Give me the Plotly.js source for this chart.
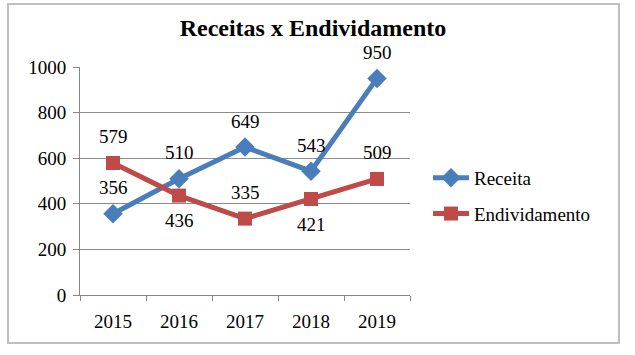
<!DOCTYPE html>
<html>
<head>
<meta charset="utf-8">
<script src="https://cdn.plot.ly/plotly-3.0.1.min.js"></script>
<style>html,body{margin:0;padding:0;background:#fff;}#chart{width:635px;height:355px;}</style>
</head>
<body>
<div id="chart"></div>
<script>
const years = ["2015", "2016", "2017", "2018", "2019"];
const receita = [356, 510, 649, 543, 950];
const endividamento = [579, 436, 335, 421, 509];
const receitaLabelPos = ["above", "above", "above", "above", "above"];
const endivLabelPos = ["above", "below", "above", "below", "above"];

const W = 635, H = 355;
const M = {l: 80, r: 225, t: 67, b: 60};
const pw = W - M.l - M.r, ph = H - M.t - M.b;
const px = v => (v - M.l) / pw;
const py = v => (H - M.b - v) / ph;

const blue = "#4A7EBB", red = "#BE4B48";
const fontFam = "'Liberation Serif', 'Times New Roman', serif";

const traces = [
  {x: years, y: receita, name: "Receita", type: "scatter", mode: "lines+markers",
   line: {color: blue, width: 5}, marker: {symbol: "diamond", size: 15, color: blue},
   legendgroup: "a"},
  {x: years, y: endividamento, name: "Endividamento", type: "scatter", mode: "lines+markers",
   line: {color: red, width: 5}, marker: {symbol: "square", size: 14, color: red},
   legendgroup: "b"}
];

const labelAnns = [];
function addLabels(vals, pos) {
  for (let i = 0; i < vals.length; i++) {
    labelAnns.push({x: i, y: vals[i], xref: "x", yref: "y", text: String(vals[i]),
      showarrow: false, yshift: pos[i] === "above" ? 26 : -25,
      font: {family: fontFam, size: 19, color: "#000000"}});
  }
}
addLabels(receita, receitaLabelPos);
addLabels(endividamento, endivLabelPos);

const layout = {
  width: W, height: H,
  margin: M,
  paper_bgcolor: "#fff", plot_bgcolor: "#fff",
  showlegend: true,
  title: {text: "<b>Receitas x Endividamento</b>", x: 313 / W, xanchor: "center",
    y: 1 - 28 / H, yanchor: "middle", font: {family: fontFam, size: 24, color: "#000"}},
  xaxis: {type: "category", range: [-0.5, 4.5], showgrid: false, zeroline: false,
    showline: true, linecolor: "#868686", linewidth: 1,
    ticks: "outside", tickson: "boundaries", ticklen: 5, tickcolor: "#868686",
    ticklabelstandoff: 9,
    tickfont: {family: fontFam, size: 19, color: "#000"}},
  yaxis: {range: [0, 1000], dtick: 200, showgrid: true, gridcolor: "#8C8C8C", gridwidth: 1,
    zeroline: false, showline: true, linecolor: "#868686", linewidth: 1,
    ticks: "outside", ticklen: 6, tickcolor: "#868686", ticklabelstandoff: 3,
    tickfont: {family: fontFam, size: 19, color: "#000"}},
  legend: {x: px(428), y: py(196), xanchor: "left", yanchor: "middle",
    font: {family: fontFam, size: 19, color: "#000"}, tracegroupgap: 8,
    itemwidth: 36, bgcolor: "rgba(0,0,0,0)"},
  annotations: labelAnns,
  shapes: [{type: "rect", xref: "paper", yref: "paper",
    x0: px(8), x1: px(619), y0: py(343), y1: py(4),
    line: {color: "#BFBFBF", width: 2}, layer: "below"}]
};

Plotly.newPlot("chart", traces, layout, {displayModeBar: false});
</script>
</body>
</html>
